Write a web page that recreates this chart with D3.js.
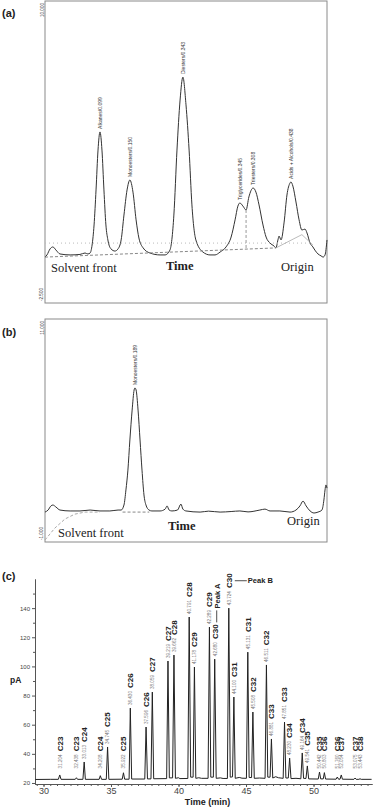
<!DOCTYPE html>
<html>
<head>
<meta charset="utf-8">
<script src="https://cdn.jsdelivr.net/npm/d3@7"></script>
<style>
  body { margin: 0; background: #fff; }
  svg { display: block; font-family: "Liberation Sans", Arial, sans-serif; }
  .serif { font-family: "Liberation Serif", "Times New Roman", serif; }
</style>
</head>
<body>
<div id="chart"></div>
<script>
////////////////
// CHART DATA //
////////////////

// (a) scan of the whole extract: [time %, signal]
var traceA = [[0,-0.60],[0.7,-0.51],[1.8,-0.26],[2.8,-0.18],[3.9,-0.31],[5.3,-0.47],[8.9,-0.51],[12.4,-0.49],
  [14.2,-0.43],[15.2,-0.47],[16.0,-0.43],[16.7,-0.10],[17.4,0.73],[18.1,2.18],[18.8,3.83],[19.5,4.58],
  [20.2,3.83],[20.9,2.18],[21.6,0.73],[22.3,0.11],[23.4,-0.26],[24.8,-0.35],[25.9,-0.26],[27.0,0.11],
  [28.0,1.14],[29.1,2.18],[30.1,2.59],[31.2,2.09],[32.3,0.94],[33.3,0.19],[34.8,-0.22],[37.2,-0.43],
  [40.8,-0.51],[42.6,-0.51],[44.3,-0.31],[45.7,1.14],[46.8,3.83],[47.9,5.90],[48.9,6.85],[50.0,5.70],
  [51.1,3.83],[52.1,1.56],[53.5,0.11],[56.0,-0.39],[58.5,-0.51],[60.3,-0.51],[62.1,-0.39],[64.2,-0.18],
  [66.0,0.23],[67.4,0.94],[68.4,1.51],[69.1,1.64],[70.2,1.51],[71.3,1.35],[72.3,1.89],[73.8,2.26],
  [74.8,2.09],[75.9,1.56],[77.3,0.73],[78.4,0.23],[79.8,-0.02],[81.2,-0.14],[81.9,-0.22],[82.6,0.11],
  [83.0,0.27],[83.7,0.11],[84.8,0.85],[85.8,1.97],[86.9,2.47],[87.2,2.51],[87.9,2.34],[89.0,1.68],
  [90.1,0.94],[91.1,0.52],[92.2,0.56],[92.9,0.40],[94.0,-0.02],[95.0,-0.18],[95.7,-0.31],[96.8,-0.47],
  [97.9,-0.55],[98.6,-0.60],[99.3,-0.51],[100,0.11]];
var peakNamesA = ["Alkanes/0.099", "Monoesters/0.150", "Diesters/0.343", "Triglycerides/0.345", "Triesters/0.308", "Acids + Alcohols/0.438"];
var peakPosA = [[19.5,4.58],[30.1,2.59],[48.9,6.85],[69.1,1.64],[73.8,2.26],[87.2,2.51]];
var yLabelsA = ["10.000", "-2.500"];
var baseDashA = [[0,-0.60],[81.9,-0.22]];
var baseDotA = [[0,-0.02],[95,-0.02]];
var splitA = [[71.3,1.35],[71.3,-0.25]];
var originA = [[81.9,-0.22],[91.1,0.33],[95.0,-0.10]];

// (b) scan of the second fraction
var traceB = [[0,0.61],[1.1,0.72],[2.1,0.94],[2.8,0.99],[3.9,0.88],[5.3,0.72],[8.9,0.67],[12.4,0.67],
  [16.0,0.72],[19.5,0.67],[23.0,0.67],[25.9,0.72],[27.0,0.72],[28.0,0.99],[28.7,1.80],[29.4,2.87],
  [30.1,4.49],[30.9,6.10],[31.6,7.18],[31.9,7.29],[32.3,7.18],[33.0,6.10],[33.7,4.49],[34.4,2.87],
  [35.1,1.53],[35.8,0.99],[36.9,0.72],[37.9,0.67],[40.8,0.67],[42.6,0.77],[43.3,0.94],[44.0,0.72],
  [45.0,0.67],[47.0,0.72],[48.2,1.04],[48.9,0.77],[50.0,0.67],[55.0,0.61],[58.0,0.66],[62.1,0.61],
  [66.0,0.64],[69.1,0.67],[72.0,0.62],[76.2,0.72],[78.0,0.77],[79.8,0.67],[83.3,0.67],[86.9,0.61],
  [89.0,0.72],[90.4,0.94],[91.5,1.20],[92.6,0.94],[94.0,0.67],[95.4,0.56],[96.8,0.61],[98.2,0.72],
  [98.9,1.26],[99.3,1.80],[99.6,2.07],[100,1.90]];
var peakNamesB = ["Monoesters/0.189"];
var peakPosB = [[31.9,7.29]];
var yLabelsB = ["11.000", "-1.000"];
var baseDashB = [[27.5,0.61],[37.0,0.61]];
var frontB = [[0,-0.89],[3.5,-0.25],[7.1,0.24],[10.6,0.50],[14.2,0.61],[19.5,0.61]];

// (c) GC trace: [time (min), pA]
var traceC = [[29.4,22.4],[30.5,22.5],[31.1,22.5],[31.204,25.5],[31.3,22.5],
  [32.35,22.5],[32.438,23.6],[32.52,22.5],[32.92,22.5],[33.013,34.4],[33.1,22.5],
  [34.12,22.5],[34.208,25.0],[34.3,22.5],[34.65,22.5],[34.745,44.7],[34.84,22.5],
  [35.83,22.6],[35.922,27.0],[36.01,22.6],[36.34,22.6],[36.430,71.4],[36.53,22.7],
  [37.5,22.7],[37.596,58.4],[37.7,22.8],[37.96,22.8],[38.059,82.4],[38.16,22.9],
  [39.12,23.0],[39.219,103.7],[39.32,23.5],[39.56,23.5],[39.662,107.8],[39.77,23.2],
  [40.0,23.6],[40.1,23.0],[40.69,23.1],[40.791,133.9],[40.9,24.0],[41.08,24.0],[41.178,99.6],[41.28,23.2],
  [41.5,23.6],[41.7,23.2],[42.19,23.2],[42.289,127.0],[42.39,24.0],[42.58,24.0],[42.680,105.0],[42.79,23.2],
  [43.1,23.5],[43.3,23.1],[43.62,23.1],[43.724,140.0],[43.83,24.0],[44.0,24.2],[44.100,79.0],[44.2,23.2],
  [44.5,23.8],[44.7,23.3],[45.03,23.2],[45.131,109.8],[45.23,23.8],[45.41,23.7],[45.508,68.7],[45.61,23.2],
  [46.0,23.4],[46.41,23.2],[46.511,101.0],[46.61,24.0],[46.78,24.0],[46.881,50.2],[46.98,23.4],
  [47.2,24.3],[47.4,23.6],[47.75,23.2],[47.851,61.8],[47.95,23.4],[48.13,23.4],[48.230,37.1],[48.33,23.0],
  [48.7,23.2],[49.06,22.9],[49.164,40.6],[49.26,23.2],[49.44,23.1],[49.541,31.7],[49.64,22.8],
  [50.35,22.7],[50.442,27.5],[50.53,22.8],[50.72,22.8],[50.803,27.1],[50.89,22.7],
  [51.67,22.6],[51.760,24.1],[51.85,22.6],[51.96,22.6],[52.054,25.5],[52.14,22.6],
  [52.99,22.5],[53.075,23.4],[53.16,22.5],[53.36,22.5],[53.443,22.9],[53.53,22.5],[54.3,22.5]];
var peakTimesC = [31.204, 32.438, 33.013, 34.208, 34.745, 35.922, 36.430, 37.596, 38.059, 39.219, 39.662,
  40.791, 41.178, 42.289, 42.680, 43.724, 44.100, 45.131, 45.508, 46.511, 46.881, 47.851, 48.230,
  49.164, 49.541, 50.442, 50.803, 51.760, 52.054, 53.075, 53.443];
var peakHeightsC = [25.5, 23.6, 34.4, 25.0, 44.7, 27.0, 71.4, 58.4, 82.4, 103.7, 107.8,
  133.9, 99.6, 127.0, 105.0, 140.0, 79.0, 109.8, 68.7, 101.0, 50.2, 61.8, 37.1,
  40.6, 31.7, 27.5, 27.1, 24.1, 25.5, 23.4, 22.9];
var peakCarbonC = ["C23", "C23", "C24", "C24", "C25", "C25", "C26", "C26", "C27", "C27", "C28",
  "C28", "C29", "C29", "C30", "C30", "C31", "C31", "C32", "C32", "C33", "C33", "C34",
  "C34", "C35", "C35", "C36", "C36", "C37", "C37", "C38"];
var yTicksC = [20, 40, 60, 80, 100, 120, 140];
var yMinorC = [30, 50, 70, 90, 110, 130, 150];
var xTicksC = [30, 35, 40, 45, 50];

////////////
// LAYOUT //
////////////

var svgWidth = 373, svgHeight = 808;

var svg = d3.select("#chart")
  .append("svg")
  .attr("width", svgWidth)
  .attr("height", svgHeight);

var boxA = { left: 45, right: 327, top: 1, bottom: 303 };
var boxB = { left: 45, right: 327, top: 319, bottom: 542 };
var boxC = { left: 35, right: 372, top: 579, bottom: 784 };

var xA = d3.scaleLinear().domain([0, 100]).range([boxA.left, boxA.right]);
var yA = d3.scaleLinear().domain([-2.5, 10]).range([boxA.bottom, boxA.top]);
var xB = d3.scaleLinear().domain([0, 100]).range([boxB.left, boxB.right]);
var yB = d3.scaleLinear().domain([-1, 11]).range([boxB.bottom, boxB.top]);
var xC = d3.scaleLinear().domain([29.37, 54.33]).range([boxC.left, boxC.right]);
var yC = d3.scaleLinear().domain([19.3, 160]).range([boxC.bottom, boxC.top]);

function panelLetter(txt, y) {
  svg.append("text")
    .attr("x", 2).attr("y", y)
    .style("font-size", "11px").style("font-weight", "bold").style("fill", "#222")
    .text(txt);
}

////////////////////////////
// (a) AND (b) SCAN PANELS //
////////////////////////////

var drawScanPanel = function(box, x, y, trace, names, pos, yLabels) {
  var g = svg.append("g");

  g.append("rect")
    .attr("x", box.left).attr("y", box.top)
    .attr("width", box.right - box.left).attr("height", box.bottom - box.top)
    .attr("fill", "none").attr("stroke", "#8a8a8a").attr("stroke-width", 1);

  // range labels at both ends of the left edge
  g.append("text")
    .attr("transform", "translate(" + (box.left - 1) + "," + (box.top + 2) + ") rotate(-90)")
    .attr("text-anchor", "end")
    .style("font-size", "4.6px").style("fill", "#333")
    .text(yLabels[0]);
  g.append("text")
    .attr("transform", "translate(" + (box.left - 2) + "," + (box.bottom - 2) + ") rotate(-90)")
    .attr("text-anchor", "start")
    .style("font-size", "4.6px").style("fill", "#333")
    .text(yLabels[1]);

  var line = d3.line()
    .x(function(d) { return x(d[0]); })
    .y(function(d) { return y(d[1]); })
    .curve(d3.curveMonotoneX);

  g.append("path")
    .datum(trace)
    .attr("d", line)
    .attr("fill", "none")
    .attr("stroke", "#333")
    .attr("stroke-width", 1);

  // peak names written upwards from each peak top
  g.selectAll(".peakname")
    .data(pos)
    .enter().append("text")
    .attr("class", "peakname")
    .attr("transform", function(d) { return "translate(" + (x(d[0]) + 1.8) + "," + (y(d[1]) - 3) + ") rotate(-90)"; })
    .style("font-size", "5px").style("fill", "#333")
    .text(function(d, i) { return names[i]; });

  return g;
};

var guideLine = d3.line();

function guide(g, pts, x, y, color, dash, width) {
  g.append("path")
    .datum(pts.map(function(d) { return [x(d[0]), y(d[1])]; }))
    .attr("d", guideLine)
    .attr("fill", "none")
    .attr("stroke", color)
    .attr("stroke-width", width || 1)
    .attr("stroke-dasharray", dash);
}

function scanText(g, txt, px, py, bold) {
  g.append("text")
    .attr("class", "serif")
    .attr("x", px).attr("y", py)
    .style("font-size", "12.5px")
    .style("font-weight", bold ? "bold" : "normal")
    .style("fill", "#222")
    .text(txt);
}

// panel (a)
panelLetter("(a)", 17);
var gA = drawScanPanel(boxA, xA, yA, traceA, peakNamesA, peakPosA, yLabelsA);
guide(gA, baseDashA, xA, yA, "#888", "3,2");
guide(gA, baseDotA, xA, yA, "#bbb", "1,3");
guide(gA, splitA, xA, yA, "#999", "3,2");
guide(gA, originA, xA, yA, "#aaa", null, 0.8);
scanText(gA, "Solvent front", 51, 272, false);
scanText(gA, "Time", 166, 270, true);
scanText(gA, "Origin", 281, 271, false);

// panel (b)
panelLetter("(b)", 336);
var gB = drawScanPanel(boxB, xB, yB, traceB, peakNamesB, peakPosB, yLabelsB);
guide(gB, baseDashB, xB, yB, "#888", "3,2");
guide(gB, frontB, xB, yB, "#aaa", "3,2");
scanText(gB, "Solvent front", 58, 537, false);
scanText(gB, "Time", 168, 530, true);
scanText(gB, "Origin", 287, 525, false);

//////////////////////
// (c) GC TRACE     //
//////////////////////

panelLetter("(c)", 580);
var gC = svg.append("g");

var yAxisC = d3.axisLeft(yC).tickValues(yTicksC).tickSize(3).tickSizeOuter(0).tickPadding(2);
var yMinorAxisC = d3.axisLeft(yC).tickValues(yMinorC).tickSize(2).tickSizeOuter(0).tickFormat("");
var xAxisC = d3.axisBottom(xC).tickValues(xTicksC).tickSize(3).tickSizeOuter(0).tickPadding(1);
var xMinorAxisC = d3.axisBottom(xC).tickValues(d3.range(29.5, 54.5, 0.5)).tickSize(2).tickSizeOuter(0).tickFormat("");

gC.append("g").attr("transform", "translate(" + boxC.left + ",0)").call(yMinorAxisC);
gC.append("g").attr("class", "y axis")
  .attr("transform", "translate(" + boxC.left + ",0)")
  .call(yAxisC)
  .call(function(a) { a.selectAll("text").style("font-size", "6px").style("fill", "#444"); });

gC.append("g").attr("transform", "translate(0," + boxC.bottom + ")").call(xMinorAxisC);
gC.append("g").attr("class", "x axis")
  .attr("transform", "translate(0," + boxC.bottom + ")")
  .call(xAxisC)
  .call(function(a) { a.selectAll("text").style("font-size", "9px").style("fill", "#444"); });

gC.selectAll(".domain, .tick line").attr("stroke", "#555");

gC.append("text")
  .attr("x", 10).attr("y", 683)
  .style("font-size", "8.5px").style("font-weight", "bold").style("fill", "#222")
  .text("pA");

gC.append("text")
  .attr("x", (boxC.left + boxC.right) / 2 + 4).attr("y", 805)
  .attr("text-anchor", "middle")
  .style("font-size", "9px").style("font-weight", "bold").style("fill", "#222")
  .text("Time (min)");

gC.append("path")
  .datum(traceC)
  .attr("d", d3.line().x(function(d) { return xC(d[0]); }).y(function(d) { return yC(d[1]); }))
  .attr("fill", "none")
  .attr("stroke", "#222")
  .attr("stroke-width", 1);

// retention time label just above each peak, carbon number above that;
// labels of the small late peaks sit at a common floor like in the source
var labelFloor = yC(30);
var labelTops = [];
peakTimesC.forEach(function(t, i) {
  var px = xC(t), py = Math.min(yC(peakHeightsC[i]) - 3, labelFloor);
  var tl = gC.append("text")
    .attr("transform", "translate(" + (px + 1.8) + "," + py + ") rotate(-90)")
    .style("font-size", "4.6px").style("fill", "#777")
    .text(t.toFixed(3));
  var len = tl.node().getComputedTextLength();
  var cy = py - len - 3;
  var cl = gC.append("text")
    .attr("transform", "translate(" + (px + 2.8) + "," + cy + ") rotate(-90)")
    .style("font-size", "8px").style("font-weight", "bold").style("fill", "#222")
    .text(peakCarbonC[i]);
  labelTops.push([px, cy, cy - cl.node().getComputedTextLength()]);
});

// Peak A: rotated, with leader down to its C30 label
var iA = peakTimesC.indexOf(42.680);
var pa = labelTops[iA];
gC.append("line")
  .attr("x1", pa[0] + 2).attr("x2", pa[0] + 2)
  .attr("y1", pa[2] - 2).attr("y2", pa[2] - 14)
  .attr("stroke", "#222").attr("stroke-width", 0.8);
gC.append("text")
  .attr("transform", "translate(" + (pa[0] + 5) + "," + (pa[2] - 16) + ") rotate(-90)")
  .style("font-size", "7.5px").style("font-weight", "bold").style("fill", "#222")
  .text("Peak A");

// Peak B: horizontal leader beside its C30 label
var iB = peakTimesC.indexOf(43.724);
var pb = labelTops[iB];
var midB = (pb[1] + pb[2]) / 2;
gC.append("line")
  .attr("x1", pb[0] + 6).attr("x2", pb[0] + 18)
  .attr("y1", midB).attr("y2", midB)
  .attr("stroke", "#222").attr("stroke-width", 0.8);
gC.append("text")
  .attr("x", pb[0] + 19).attr("y", midB + 2.7)
  .style("font-size", "7.5px").style("font-weight", "bold").style("fill", "#222")
  .text("Peak B");
</script>
</body>
</html>
